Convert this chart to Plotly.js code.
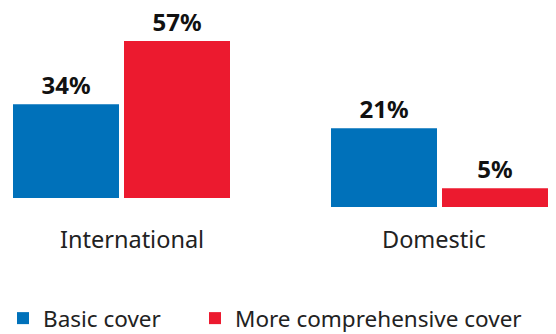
<!DOCTYPE html>
<html><head><meta charset="utf-8">
<script src="https://cdn.plot.ly/plotly-3.0.1.min.js"></script>
<style>html,body{margin:0;padding:0;background:#fff}</style>
</head><body>
<div id="chart" style="width:556px;height:334px"></div>
<script>
var categories = ["International", "Domestic"];
var seriesNames = ["Basic cover", "More comprehensive cover"];
var basicValues = [34, 21];
var comprehensiveValues = [57, 5];
var colors = ["#0071BA", "#EC1A2F"];

var FONT = "Noto Sans, sans-serif";
var traces = [];
var axes = [["x", "y"], ["x2", "y2"]];
var legends = ["legend", "legend2"];
[basicValues, comprehensiveValues].forEach(function (vals, s) {
  categories.forEach(function (cat, i) {
    traces.push({
      type: "bar",
      x: [cat],
      y: [vals[i]],
      xaxis: axes[i][0],
      yaxis: axes[i][1],
      name: seriesNames[s],
      legend: legends[s],
      legendgroup: seriesNames[s],
      showlegend: i === 0,
      marker: { color: colors[s] },
      text: [vals[i] + "%"],
      textposition: "outside",
      textfont: { family: FONT, size: 24, color: "#111", weight: "bold" },
      cliponaxis: false,
      hoverinfo: "skip"
    });
  });
});

var W = 556, H = 334;
function px(a, b) { return [a / W, b / W]; }
function py(bottom) { return [(H - bottom) / H, 1]; }

var xbase = { type: "category", showgrid: false, zeroline: false, showline: false, ticks: "",
  showticklabels: false };
var ybase = { showgrid: false, zeroline: false, showline: false, showticklabels: false, ticks: "" };
var legendBase = { orientation: "h", xanchor: "left", y: 15.5 / H, yanchor: "middle",
  font: { family: FONT, size: 22.5, color: "#222" }, bgcolor: "rgba(0,0,0,0)" };

// category labels placed under each group
var labelShift = [[10, -23], [-6, -14]];
var annotations = categories.map(function (cat, i) {
  return {
    text: cat, x: cat, y: 0, xref: axes[i][0], yref: axes[i][1],
    xanchor: "center", yanchor: "top", showarrow: false,
    xshift: labelShift[i][0], yshift: labelShift[i][1],
    font: { family: FONT, size: 23.5, color: "#222" }
  };
});

var layout = {
  width: W, height: H,
  margin: { l: 0, r: 0, t: 0, b: 0, autoexpand: false },
  paper_bgcolor: "#fff", plot_bgcolor: "#fff",
  barmode: "group", bargap: 0, bargroupgap: 0.045,
  xaxis: Object.assign({}, xbase, { domain: px(10.5, 232.5), anchor: "y" }),
  yaxis: Object.assign({}, ybase, { domain: py(198), range: [0, 71.9], anchor: "x" }),
  xaxis2: Object.assign({}, xbase, { domain: px(328.5, 550.5), anchor: "y2" }),
  yaxis2: Object.assign({}, ybase, { domain: py(207), range: [0, 55.2], anchor: "x2" }),
  annotations: annotations,
  showlegend: true,
  legend: Object.assign({}, legendBase, { x: 3 / W }),
  legend2: Object.assign({}, legendBase, { x: 195 / W }),
  font: { family: FONT }
};

Plotly.newPlot("chart", traces, layout, { displayModeBar: false, staticPlot: true });
</script>
</body></html>
